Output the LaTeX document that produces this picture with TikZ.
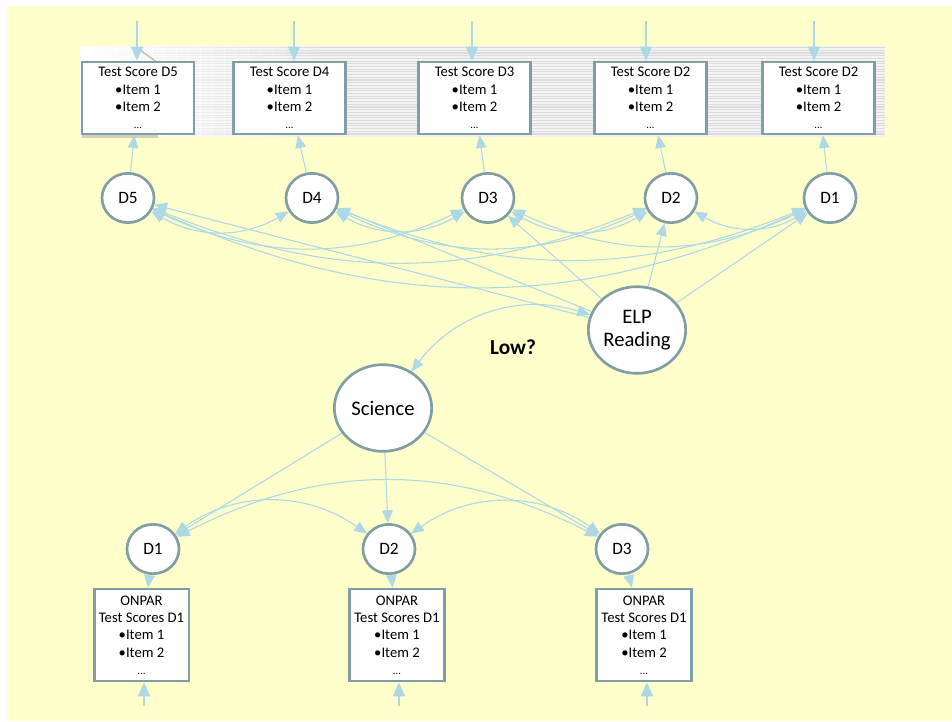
\documentclass[tikz,border=0pt]{standalone}
\usepackage{fontspec}
\setmainfont{Carlito}
\usetikzlibrary{shapes.geometric,arrows.meta,positioning}

\definecolor{bgyellow}{RGB}{255,255,204}
\definecolor{linkblue}{RGB}{173,216,230}
\definecolor{rimgray}{RGB}{128,158,163}
\definecolor{bandgray}{RGB}{220,220,220}
\definecolor{bandlight}{RGB}{242,242,242}
\definecolor{clipTan}{RGB}{196,184,160}

\begin{document}
\begin{tikzpicture}[x=0.75pt, y=-0.75pt, >={Triangle[length=9.5pt,width=8pt]},
  link/.style={draw=linkblue, line width=0.8pt},
  feed/.style={draw=linkblue, line width=1.3pt, -{Triangle[length=10.5pt,width=9pt]}},
  lat/.style={ellipse, draw=rimgray, line width=2pt, fill=white, inner sep=0pt},
  dim/.style={lat, minimum width=39pt, minimum height=37pt, font=\fontsize{13}{15}\selectfont},
  big/.style={lat, minimum width=73pt, minimum height=65pt, align=center, font=\fontsize{15.5}{17.5}\selectfont},
  score/.style={rectangle, draw=rimgray, line width=2pt, fill=white, inner sep=0pt, align=center, font=\fontsize{11}{13}\selectfont},
  topscore/.style={score, minimum width=84pt, minimum height=54pt},
  onpar/.style={score, minimum width=71pt, minimum height=69pt}]

\useasboundingbox (0,0) rectangle (952,721);
\fill[bgyellow] (7,6) rectangle (952,721);

% striped band behind the test score boxes
\fill[bandlight] (80,46) rectangle (885,137);
\foreach \yy in {47,49.7,...,136}
  \fill[bandgray] (80,\yy) rectangle (885,\yy+1.1);
\foreach \i in {0,...,19}
  \fill[white, opacity={1-\i/20}] (80+\i*12,46) rectangle (92.5+\i*12,137);
\draw[clipTan, line width=1pt] (136,47) -- (158,63);
\fill[clipTan!70] (82,134) rectangle (158,138);

% test score boxes
\node[topscore] (s5) at (138,98) {Test Score D5\\•Item 1\\•Item 2\\{\footnotesize ...}};
\node[topscore] (s4) at (289.5,98) {Test Score D4\\•Item 1\\•Item 2\\{\footnotesize ...}};
\node[topscore] (s3) at (474.5,98) {Test Score D3\\•Item 1\\•Item 2\\{\footnotesize ...}};
\node[topscore] (s2) at (650.5,98) {Test Score D2\\•Item 1\\•Item 2\\{\footnotesize ...}};
\node[topscore] (s1) at (818.5,98) {Test Score D2\\•Item 1\\•Item 2\\{\footnotesize ...}};

\coordinate (t5) at (137,21);
\coordinate (t4) at (294,21);
\coordinate (t3) at (472,21);
\coordinate (t2) at (646,21);
\coordinate (t1) at (814,21);

\draw[feed] (t5) -- (t5 |- s5.north);
\draw[feed] (t4) -- (t4 |- s4.north);
\draw[feed] (t3) -- (t3 |- s3.north);
\draw[feed] (t2) -- (t2 |- s2.north);
\draw[feed] (t1) -- (t1 |- s1.north);

% ELP dimensions
\node[dim] (d5) at (128,198) {D5};
\node[dim] (d4) at (312,198) {D4};
\node[dim] (d3) at (488,198) {D3};
\node[dim] (d2) at (671,198) {D2};
\node[dim] (d1) at (830,198) {D1};

\draw[link, ->] (d5) -- (s5);
\draw[link, ->] (d4) -- (s4);
\draw[link, ->] (d3) -- (s3);
\draw[link, ->] (d2) -- (s2);
\draw[link, ->] (d1) -- (s1);

\node[big] (elp) at (637,330) {ELP\\Reading};

\draw[link, ->] (elp) -- (d5);
\draw[link, ->] (elp) -- (d4);
\draw[link, ->] (elp) -- (d3);
\draw[link, ->] (elp) -- (d2);
\draw[link, ->] (elp) -- (d1);

% correlated dimensions
\draw[link, <->] (d5) to[bend right=30] (d4);
\draw[link, <->] (d4) to[bend right=30] (d3);
\draw[link, <->] (d3) to[bend right=30] (d2);
\draw[link, <->] (d2) to[bend right=30] (d1);
\draw[link, <->] (d5) to[bend right=25] (d3);
\draw[link, <->] (d4) to[bend right=25] (d2);
\draw[link, <->] (d3) to[bend right=25] (d1);
\draw[link, <->] (d5) to[bend right=22] (d2);
\draw[link, <->] (d4) to[bend right=22] (d1);
\draw[link, <->] (d5) to[bend right=24] (d1);

% science side
\node[big] (sci) at (383,408) {Science};
\node[font=\bfseries\fontsize{16}{18}\selectfont] (low) at (513,347) {Low?};

\draw[link, <->] (sci) to[bend left=35] (elp);

\node[dim] (b1) at (153,549) {D1};
\node[dim] (b2) at (389,549) {D2};
\node[dim] (b3) at (622,549) {D3};

\draw[link, ->] (sci) -- (b1);
\draw[link, ->] (sci) -- (b2);
\draw[link, ->] (sci) -- (b3);

\draw[link, <->] (b1) to[bend left=35] (b2);
\draw[link, <->] (b2) to[bend left=35] (b3);
\draw[link, <->] (b1) to[bend left=27] (b3);

\node[onpar] (o1) at (141.5,635) {ONPAR\\Test Scores D1\\•Item 1\\•Item 2\\{\footnotesize ...}};
\node[onpar] (o2) at (397,635) {ONPAR\\Test Scores D1\\•Item 1\\•Item 2\\{\footnotesize ...}};
\node[onpar] (o3) at (644,635) {ONPAR\\Test Scores D1\\•Item 1\\•Item 2\\{\footnotesize ...}};

\draw[link, ->] (b1) -- (o1);
\draw[link, ->] (b2) -- (o2);
\draw[link, ->] (b3) -- (o3);

\coordinate (u1) at (144,706);
\coordinate (u2) at (399,706);
\coordinate (u3) at (647,706);

\draw[feed] (u1) -- (u1 |- o1.south);
\draw[feed] (u2) -- (u2 |- o2.south);
\draw[feed] (u3) -- (u3 |- o3.south);

\end{tikzpicture}
\end{document}
